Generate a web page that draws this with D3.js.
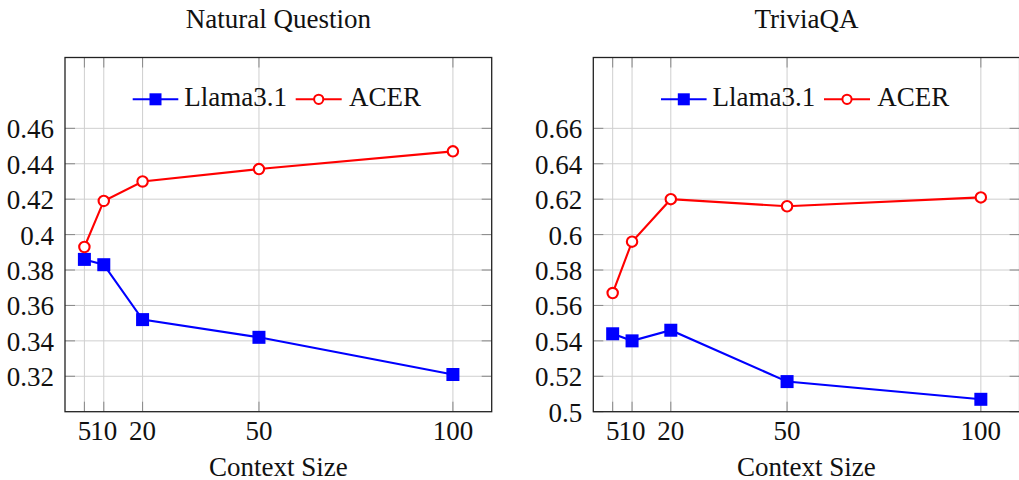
<!DOCTYPE html>
<html>
<head>
<meta charset="utf-8">
<script src="https://cdn.jsdelivr.net/npm/d3@7"></script>
</head>
<body style="margin:0">
<script>
// context sizes on the x axis
const contextSizes = [5, 10, 20, 50, 100];

// Natural Question
const nqLlama = [0.386, 0.383, 0.352, 0.342, 0.321];
const nqAcer  = [0.393, 0.419, 0.430, 0.437, 0.447];
const nqTicks = [0.32, 0.34, 0.36, 0.38, 0.4, 0.42, 0.44, 0.46];

// TriviaQA
const tqLlama = [0.544, 0.540, 0.546, 0.517, 0.507];
const tqAcer  = [0.567, 0.596, 0.620, 0.616, 0.621];
const tqTicks = [0.5, 0.52, 0.54, 0.56, 0.58, 0.6, 0.62, 0.64, 0.66];

const seriesNames = ["Llama3.1", "ACER"];

const svg = d3.select("body")
    .append("svg")
    .attr("width", 1019)
    .attr("height", 480)
    .attr("font-family", "Times New Roman");

// serif text, set on each text node
function label(sel) {
    return sel
        .attr("font-family", "Times New Roman")
        .style("font-family", "'Times New Roman'")
        .style("font-size", "27px")
        .style("fill", "#111");
}

function drawPanel(opts) {
    const { left, right, title, llama, acer, yDomain, yTicks } = opts;
    const top = 57.5, bottom = 411.7;

    const x = d3.scaleLinear().domain([0, 110]).range([left, right]);
    const y = d3.scaleLinear().domain(yDomain).range([bottom, top]);

    const g = svg.append("g");

    // grid
    g.selectAll(".vgrid")
        .data(contextSizes)
        .enter()
        .append("line")
        .attr("x1", d => x(d)).attr("x2", d => x(d))
        .attr("y1", top).attr("y2", bottom)
        .style("stroke", "#cfcfcf")
        .style("stroke-width", 1);

    g.selectAll(".hgrid")
        .data(yTicks)
        .enter()
        .append("line")
        .attr("x1", left).attr("x2", right)
        .attr("y1", d => y(d)).attr("y2", d => y(d))
        .style("stroke", "#cfcfcf")
        .style("stroke-width", 1);

    // inner tick marks
    const tl = 10;
    contextSizes.forEach(d => {
        g.append("line").attr("x1", x(d)).attr("x2", x(d)).attr("y1", bottom).attr("y2", bottom - tl)
            .style("stroke", "#888").style("stroke-width", 1);
        g.append("line").attr("x1", x(d)).attr("x2", x(d)).attr("y1", top).attr("y2", top + tl)
            .style("stroke", "#888").style("stroke-width", 1);
    });
    yTicks.forEach(d => {
        g.append("line").attr("x1", left).attr("x2", left + tl).attr("y1", y(d)).attr("y2", y(d))
            .style("stroke", "#888").style("stroke-width", 1);
        g.append("line").attr("x1", right).attr("x2", right - tl).attr("y1", y(d)).attr("y2", y(d))
            .style("stroke", "#888").style("stroke-width", 1);
    });

    // frame
    g.append("rect")
        .attr("x", left).attr("y", top)
        .attr("width", right - left).attr("height", bottom - top)
        .style("fill", "none")
        .style("stroke", "#222")
        .style("stroke-width", 1.3);

    // tick labels
    g.selectAll(".ylab")
        .data(yTicks)
        .enter()
        .append("text")
        .attr("x", left - 11)
        .attr("y", d => y(d) + 10)
        .attr("text-anchor", "end")
        .call(label)
        .text(d => d3.format("~g")(d));

    g.selectAll(".xlab")
        .data(contextSizes)
        .enter()
        .append("text")
        .attr("x", d => x(d))
        .attr("y", 439.5)
        .attr("text-anchor", "middle")
        .call(label)
        .text(d => d);

    // title + axis label
    g.append("text")
        .attr("x", (left + right) / 2)
        .attr("y", 27.5)
        .attr("text-anchor", "middle")
        .call(label)
        .text(title);

    g.append("text")
        .attr("x", (left + right) / 2)
        .attr("y", 475.5)
        .attr("text-anchor", "middle")
        .call(label)
        .text("Context Size");

    // lines
    const line = d3.line()
        .x((d, i) => x(contextSizes[i]))
        .y(d => y(d));

    g.append("path")
        .datum(llama)
        .attr("d", line)
        .style("fill", "none")
        .style("stroke", "#0000ff")
        .style("stroke-width", 2.1);

    g.append("path")
        .datum(acer)
        .attr("d", line)
        .style("fill", "none")
        .style("stroke", "#ff0000")
        .style("stroke-width", 2.1);

    // markers
    const sq = 13;
    g.selectAll(".sq")
        .data(llama)
        .enter()
        .append("rect")
        .attr("x", (d, i) => x(contextSizes[i]) - sq / 2)
        .attr("y", d => y(d) - sq / 2)
        .attr("width", sq).attr("height", sq)
        .style("fill", "#0000ff");

    g.selectAll(".circ")
        .data(acer)
        .enter()
        .append("circle")
        .attr("cx", (d, i) => x(contextSizes[i]))
        .attr("cy", d => y(d))
        .attr("r", 5.2)
        .style("fill", "#fff")
        .style("stroke", "#ff0000")
        .style("stroke-width", 2.1);

    // legend (no border)
    const ly = 99.3;
    const leg = g.append("g");
    const l1 = left + 67.7;
    leg.append("line").attr("x1", l1).attr("x2", l1 + 45.6).attr("y1", ly).attr("y2", ly)
        .style("stroke", "#0000ff").style("stroke-width", 2.1);
    leg.append("rect").attr("x", l1 + 22.8 - 6).attr("y", ly - 6)
        .attr("width", 12).attr("height", 12).style("fill", "#0000ff");
    leg.append("text").attr("x", l1 + 51.6).attr("y", ly + 7)
        .call(label).text(seriesNames[0]);
    const l2 = left + 230.7;
    leg.append("line").attr("x1", l2).attr("x2", l2 + 46).attr("y1", ly).attr("y2", ly)
        .style("stroke", "#ff0000").style("stroke-width", 2.1);
    leg.append("circle").attr("cx", l2 + 23).attr("cy", ly).attr("r", 4.6)
        .style("fill", "#fff").style("stroke", "#ff0000").style("stroke-width", 2);
    leg.append("text").attr("x", l2 + 53.3).attr("y", ly + 7)
        .call(label).text(seriesNames[1]);
}

drawPanel({
    left: 65, right: 491.7,
    title: "Natural Question",
    llama: nqLlama, acer: nqAcer,
    yDomain: [0.30, 0.50], yTicks: nqTicks
});

drawPanel({
    left: 593.3, right: 1019.6,
    title: "TriviaQA",
    llama: tqLlama, acer: tqAcer,
    yDomain: [0.50, 0.70], yTicks: tqTicks
});
</script>
</body>
</html>
